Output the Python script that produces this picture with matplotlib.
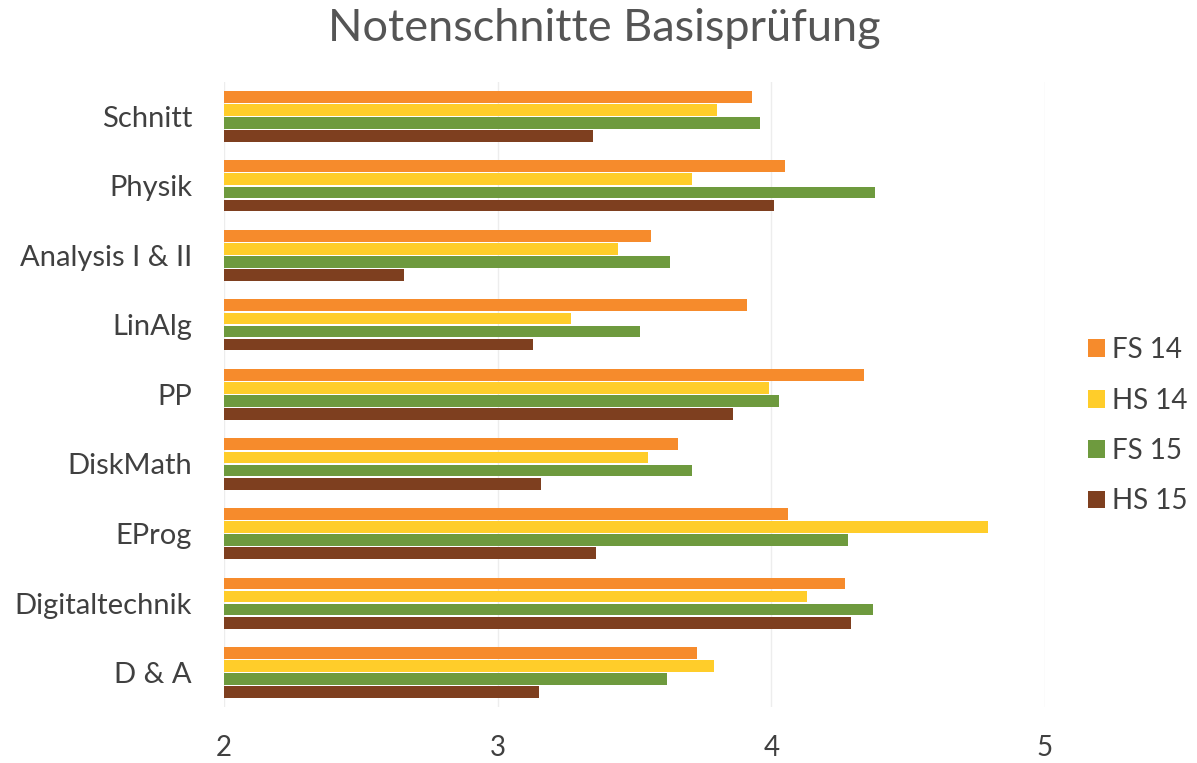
import matplotlib
matplotlib.use("Agg")
import matplotlib.pyplot as plt
import numpy as np

categories = ["Schnitt", "Physik", "Analysis I & II", "LinAlg", "PP",
              "DiskMath", "EProg", "Digitaltechnik", "D & A"]
series = ["FS 14", "HS 14", "FS 15", "HS 15"]
fs14 = [3.93, 4.05, 3.56, 3.91, 4.34, 3.66, 4.06, 4.27, 3.73]
hs14 = [3.80, 3.71, 3.44, 3.27, 3.99, 3.55, 4.79, 4.13, 3.79]
fs15 = [3.96, 4.38, 3.63, 3.52, 4.03, 3.71, 4.28, 4.37, 3.62]
hs15 = [3.35, 4.01, 2.66, 3.13, 3.86, 3.16, 3.36, 4.29, 3.15]
colors = ["#F68B2C", "#FFCD2A", "#6E9A3E", "#7E3F1F"]
xticks = [2, 3, 4, 5]

plt.rcParams['font.family'] = ['Lato', 'DejaVu Sans']
fig = plt.figure(figsize=(11.97, 7.63), dpi=100)
ax = fig.add_axes([0.187, 0.073, 0.686, 0.820])

n = len(categories)
ypos = np.arange(n)
pitch = 0.188
height = 0.17
offsets = [-1.5 * pitch, -0.5 * pitch, 0.5 * pitch, 1.5 * pitch]
for vals, c, lab, off in zip([fs14, hs14, fs15, hs15], colors, series, offsets):
    ax.barh(ypos + off, np.array(vals) - 2, left=2, height=height,
            color=c, label=lab, zorder=3)

ax.set_ylim(n - 0.5, -0.5)
ax.set_xlim(2, 5)
ax.set_yticks(ypos)
ax.set_yticklabels(categories, fontsize=21, color="#404040")
ax.set_xticks(xticks)
ax.set_xticklabels([str(t) for t in xticks], fontsize=20, color="#404040")
ax.tick_params(axis='both', length=0)
ax.tick_params(axis='y', pad=23)
ax.tick_params(axis='x', pad=20)
for s in ax.spines.values():
    s.set_visible(False)
ax.grid(axis='x', color="#EDEDED", linewidth=1, zorder=0)

fig.suptitle("Notenschnitte Basisprüfung", fontsize=32.5, color="#555555",
             x=0.505, y=0.99)

leg = ax.legend(loc='center left', bbox_to_anchor=(1.022, 0.45), frameon=False,
                fontsize=20, handlelength=0.6, handleheight=0.6,
                handletextpad=0.25, labelspacing=0.88, labelcolor="#404040")

fig.savefig("out.png", dpi=100, facecolor="white")
